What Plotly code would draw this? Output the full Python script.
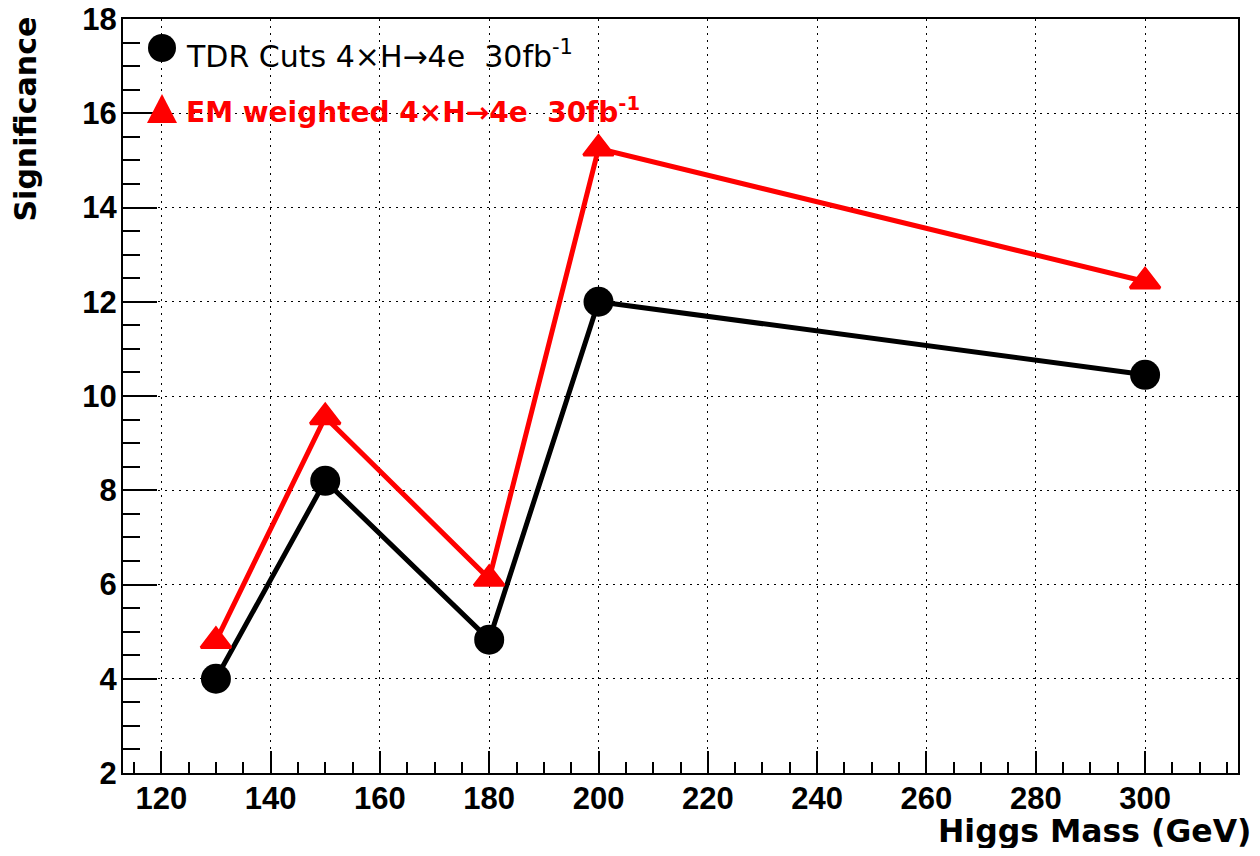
import plotly.graph_objects as go

# ---- data ----
mass = [130, 150, 180, 200, 300]
tdr_cuts = [4.0, 8.2, 4.83, 12.0, 10.45]
em_weighted = [4.8, 9.55, 6.12, 15.25, 12.43]

x_ticks = [120, 140, 160, 180, 200, 220, 240, 260, 280, 300]
y_ticks = [2, 4, 6, 8, 10, 12, 14, 16, 18]

legend_tdr = "TDR Cuts 4\u00d7H\u21924e\u00a0\u00a030fb<sup>-1</sup>"
legend_em = "EM weighted 4\u00d7H\u21924e\u00a0\u00a030fb<sup>-1</sup>"

fig = go.Figure()
fig.add_trace(go.Scatter(
    x=mass, y=tdr_cuts, mode="lines+markers",
    line=dict(color="black", width=5),
    marker=dict(symbol="circle", size=30, color="black"),
    showlegend=False, cliponaxis=False))
fig.add_trace(go.Scatter(
    x=mass, y=em_weighted, mode="lines+markers",
    line=dict(color="#ff0000", width=5),
    marker=dict(symbol="triangle-up", size=26, color="#ff0000",
                line=dict(color="#ff0000", width=3)),
    showlegend=False, cliponaxis=False))

# page body has an 8px margin; figure is sized so that the page is 1260x856
OFF = 8
W, H = 1260 - 2 * OFF, 856 - 2 * OFF
# plot area in screen pixels (reference)
PL, PR, PT, PB = 123, 1238, 19, 773
L, R, T, B = PL - OFF, (1260 - PR) - OFF, PT - OFF, (856 - PB) - OFF
pw, ph = PR - PL, PB - PT

def px(xp):
    return (xp - PL) / pw

def py(yp):
    return (PB - yp) / ph

grid_dash = "2px,5px"
axis_common = dict(
    showline=True, linewidth=2, linecolor="black", mirror=True,
    ticks="inside", tickwidth=2, tickcolor="black",
    showgrid=True, gridcolor="black", gridwidth=1, griddash=grid_dash,
    zeroline=False, automargin=False, ticklabeloverflow="allow",
    tickfont=dict(family="Liberation Sans", size=31, color="black", weight="bold"),
)

fig.update_xaxes(
    range=[113, 317], tickmode="array", tickvals=x_ticks,
    ticktext=[str(v) for v in x_ticks], ticklen=22,
    minor=dict(ticks="inside", ticklen=11, tickwidth=2, tickcolor="black",
               dtick=5, tick0=115, showgrid=False),
    ticklabelstandoff=-3,
    **axis_common)
fig.update_yaxes(
    range=[2, 18], tickmode="array", tickvals=y_ticks,
    ticktext=[str(v) for v in y_ticks], ticklen=34,
    minor=dict(ticks="inside", ticklen=17, tickwidth=2, tickcolor="black",
               dtick=0.5, tick0=2, showgrid=False),
    ticklabelstandoff=-2,
    **axis_common)

annotations = [
    dict(text="Higgs Mass (GeV)", xref="paper", yref="paper",
         x=px(1253), y=py(831), xanchor="right", yanchor="middle",
         showarrow=False,
         font=dict(family="DejaVu Sans", size=31.5, color="black", weight="bold")),
    dict(text="Significance", xref="paper", yref="paper",
         x=px(25), y=py(14), xanchor="center", yanchor="top", textangle=-90,
         showarrow=False,
         font=dict(family="DejaVu Sans", size=30, color="black", weight="bold")),
    dict(text=legend_tdr, xref="paper", yref="paper",
         x=px(184), y=py(54), xanchor="left", yanchor="middle",
         showarrow=False,
         font=dict(family="DejaVu Sans", size=30, color="black")),
    dict(text=legend_em, xref="paper", yref="paper",
         x=px(184), y=py(110), xanchor="left", yanchor="middle",
         showarrow=False,
         font=dict(family="DejaVu Sans", size=28, color="#ff0000", weight="bold")),
]

shapes = [
    dict(type="circle", xref="paper", yref="paper",
         xsizemode="pixel", ysizemode="pixel",
         xanchor=px(162), yanchor=py(48),
         x0=-14, x1=14, y0=-14, y1=14,
         fillcolor="black", line=dict(width=0)),
    dict(type="path", xref="paper", yref="paper",
         xsizemode="pixel", ysizemode="pixel",
         xanchor=px(162), yanchor=py(109),
         path="M-15,-14 L15,-14 L0,15 Z",
         fillcolor="#ff0000", line=dict(width=0)),
]

fig.update_layout(
    width=W, height=H,
    margin=dict(l=L, r=R, t=T, b=B, autoexpand=False),
    paper_bgcolor="white", plot_bgcolor="white",
    showlegend=False,
    annotations=annotations, shapes=shapes,
)

fig.write_html("out.html")
